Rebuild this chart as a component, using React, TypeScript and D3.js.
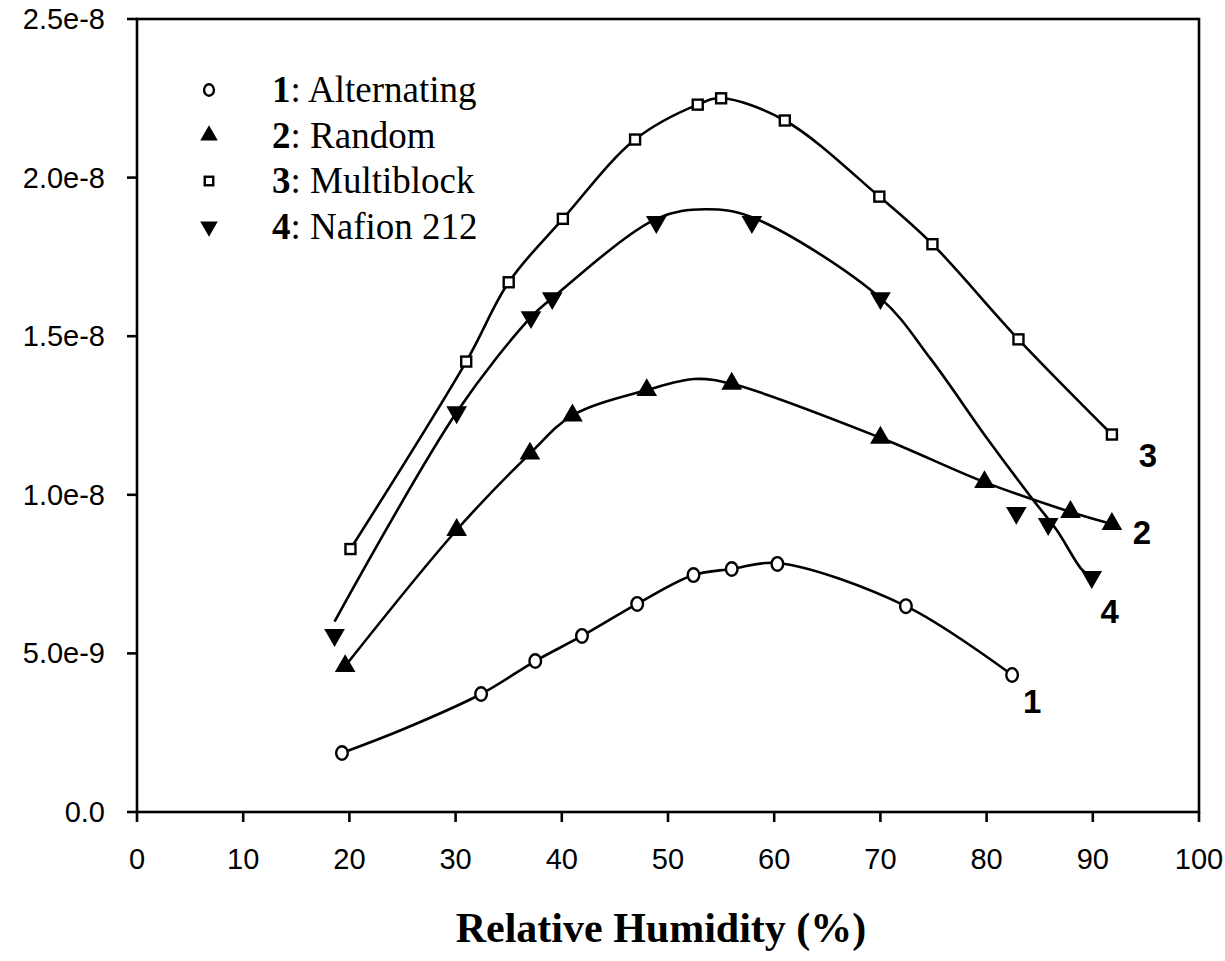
import React from "react";
import * as d3 from "d3";

// Measured points (RH %, conductivity-like value)
const alternatingX = [19.3, 32.4, 37.5, 41.9, 47.1, 52.4, 56.0, 60.3, 72.4, 82.4];
const alternatingY = [1.86e-9, 3.72e-9, 4.76e-9, 5.55e-9, 6.56e-9, 7.47e-9, 7.66e-9, 7.82e-9, 6.49e-9, 4.32e-9];

const randomX = [19.6, 30.1, 37.0, 41.0, 48.0, 56.0, 70.0, 79.8, 87.9, 91.8];
const randomY = [4.6e-9, 8.89e-9, 11.3e-9, 12.5e-9, 13.3e-9, 13.5e-9, 11.8e-9, 10.4e-9, 9.46e-9, 9.08e-9];

const multiblockX = [20.1, 31.0, 35.0, 40.1, 46.9, 52.8, 55.0, 61.0, 69.9, 74.9, 83.0, 91.8];
const multiblockY = [8.29e-9, 14.2e-9, 16.7e-9, 18.7e-9, 21.2e-9, 22.3e-9, 22.5e-9, 21.8e-9, 19.4e-9, 17.9e-9, 14.9e-9, 11.9e-9];

const nafionX = [18.6, 30.1, 37.1, 39.1, 48.9, 57.9, 70.0, 82.8, 85.8, 89.9];
const nafionY = [5.58e-9, 12.6e-9, 15.6e-9, 16.2e-9, 18.6e-9, 18.6e-9, 16.2e-9, 9.43e-9, 9.08e-9, 7.41e-9];

// Smoothed trend curves drawn behind the markers
const alternatingFitX = [19.3, 25.0, 32.4, 37.5, 41.9, 47.1, 52.4, 56.0, 60.3, 72.4, 82.4];
const alternatingFitY = [1.86e-9, 2.6e-9, 3.72e-9, 4.76e-9, 5.55e-9, 6.56e-9, 7.47e-9, 7.66e-9, 7.85e-9, 6.49e-9, 4.32e-9];

const randomFitX = [19.6, 30.1, 37.0, 41.0, 48.0, 52.5, 56.0, 70.0, 79.8, 87.9, 91.8];
const randomFitY = [4.6e-9, 8.89e-9, 11.3e-9, 12.5e-9, 13.3e-9, 13.65e-9, 13.5e-9, 11.8e-9, 10.4e-9, 9.46e-9, 9.08e-9];

const multiblockFitX = [20.1, 31.0, 35.0, 40.1, 46.9, 52.8, 55.0, 61.0, 69.9, 74.9, 83.0, 91.8];
const multiblockFitY = [8.29e-9, 14.2e-9, 16.7e-9, 18.7e-9, 21.2e-9, 22.3e-9, 22.5e-9, 21.8e-9, 19.4e-9, 17.9e-9, 14.9e-9, 11.9e-9];

const nafionFitX = [18.6, 30.1, 37.1, 39.1, 48.9, 53.5, 57.9, 70.0, 74.7, 80.0, 84.4, 86.6, 89.0, 89.9];
const nafionFitY = [6.0e-9, 12.6e-9, 15.6e-9, 16.2e-9, 18.7e-9, 19.0e-9, 18.75e-9, 16.2e-9, 14.3e-9, 11.8e-9, 9.83e-9, 8.89e-9, 7.63e-9, 7.41e-9];

const xTicks = [0, 10, 20, 30, 40, 50, 60, 70, 80, 90, 100];
const yTicks = [0, 5e-9, 1e-8, 1.5e-8, 2e-8, 2.5e-8];
const yTickLabels = ["0.0", "5.0e-9", "1.0e-8", "1.5e-8", "2.0e-8", "2.5e-8"];

const legendNumbers = ["1", "2", "3", "4"];
const legendNames = ["Alternating", "Random", "Multiblock", "Nafion 212"];

// End-of-curve labels (anchored to the last point of each series)
const endLabels = ["1", "2", "3", "4"];

const W = 1225;
const H = 961;
const M = { left: 137, top: 19, right: 1199, bottom: 812 };

const x = d3.scaleLinear().domain([0, 100]).range([M.left, M.right]);
const y = d3.scaleLinear().domain([0, 2.5e-8]).range([M.bottom, M.top]);

const line = d3
  .line<[number, number]>()
  .x((d) => x(d[0]))
  .y((d) => y(d[1]))
  .curve(d3.curveCatmullRom.alpha(0.5));

const zip = (xs: number[], ys: number[]): [number, number][] => xs.map((v, i) => [v, ys[i]]);

const triUp = d3.symbol().type(d3.symbolTriangle).size(185)()!;

type Kind = "circle" | "up" | "square" | "down";

function Marker({ kind, cx, cy, scale = 1 }: { kind: Kind; cx: number; cy: number; scale?: number }) {
  if (kind === "circle") {
    return <ellipse cx={cx} cy={cy} rx={5.8 * scale} ry={6.8 * scale} fill="#fff" stroke="#000" strokeWidth={2.4} />;
  }
  if (kind === "square") {
    const s = 10 * scale;
    return <rect x={cx - s / 2} y={cy - s / 2} width={s} height={s} fill="#fff" stroke="#000" strokeWidth={2.4} />;
  }
  const rot = kind === "down" ? 180 : 0;
  return <path d={triUp} transform={`translate(${cx},${cy}) rotate(${rot}) scale(${scale})`} fill="#000" />;
}

const series: { xs: number[]; ys: number[]; fx: number[]; fy: number[]; kind: Kind; dx: number; dy: number }[] = [
  { xs: alternatingX, ys: alternatingY, fx: alternatingFitX, fy: alternatingFitY, kind: "circle", dx: 20, dy: 38 },
  { xs: randomX, ys: randomY, fx: randomFitX, fy: randomFitY, kind: "up", dx: 30, dy: 20 },
  { xs: multiblockX, ys: multiblockY, fx: multiblockFitX, fy: multiblockFitY, kind: "square", dx: 36, dy: 32 },
  { xs: nafionX, ys: nafionY, fx: nafionFitX, fy: nafionFitY, kind: "down", dx: 18, dy: 46 },
];

const legendKinds: Kind[] = ["circle", "up", "square", "down"];

export default function App() {
  const sans = "'Liberation Sans', Arial, sans-serif";
  const serif = "'Liberation Serif', 'Times New Roman', serif";
  return (
    <svg width={W} height={H} style={{ position: "absolute", left: 0, top: 0, background: "#fff" }}>
      <rect x={0} y={0} width={W} height={H} fill="#fff" />
      {/* frame */}
      <rect
        x={M.left}
        y={M.top}
        width={M.right - M.left}
        height={M.bottom - M.top}
        fill="none"
        stroke="#000"
        strokeWidth={2.6}
      />
      {/* x ticks */}
      {xTicks.map((t) => (
        <g key={"xt" + t}>
          <line x1={x(t)} x2={x(t)} y1={M.bottom} y2={M.bottom + 10} stroke="#000" strokeWidth={2.6} />
          <text x={x(t)} y={M.bottom + 57} textAnchor="middle" fontFamily={sans} fontSize={29}>
            {t}
          </text>
        </g>
      ))}
      {/* y ticks */}
      {yTicks.map((t, i) => (
        <g key={"yt" + i}>
          <line x1={M.left - 10} x2={M.left} y1={y(t)} y2={y(t)} stroke="#000" strokeWidth={2.6} />
          <text x={M.left - 32} y={y(t) + 10} textAnchor="end" fontFamily={sans} fontSize={29}>
            {yTickLabels[i]}
          </text>
        </g>
      ))}
      {/* axis title */}
      <text x={661} y={942} textAnchor="middle" fontFamily={serif} fontWeight="bold" fontSize={42}>
        Relative Humidity (%)
      </text>
      {/* curves */}
      {series.map((s, i) => (
        <path key={"c" + i} d={line(zip(s.fx, s.fy))!} fill="none" stroke="#000" strokeWidth={2.6} />
      ))}
      {/* markers */}
      {series.map((s, i) =>
        s.xs.map((v, j) => <Marker key={`m${i}-${j}`} kind={s.kind} cx={x(v)} cy={y(s.ys[j])} />)
      )}
      {/* end labels */}
      {series.map((s, i) => {
        const n = s.xs.length - 1;
        return (
          <text
            key={"el" + i}
            x={x(s.xs[n]) + s.dx}
            y={y(s.ys[n]) + s.dy}
            textAnchor="middle"
            fontFamily={sans}
            fontWeight="bold"
            fontSize={33}
          >
            {endLabels[i]}
          </text>
        );
      })}
      {/* legend */}
      {legendNames.map((name, i) => {
        const cy = 90 + i * 45.5;
        return (
          <g key={"lg" + i}>
            <Marker kind={legendKinds[i]} cx={209} cy={cy} scale={0.85} />
            <text x={272} y={cy + 12} fontFamily={serif} fontSize={37}>
              <tspan fontWeight="bold">{legendNumbers[i]}</tspan>
              <tspan>: {name}</tspan>
            </text>
          </g>
        );
      })}
    </svg>
  );
}
